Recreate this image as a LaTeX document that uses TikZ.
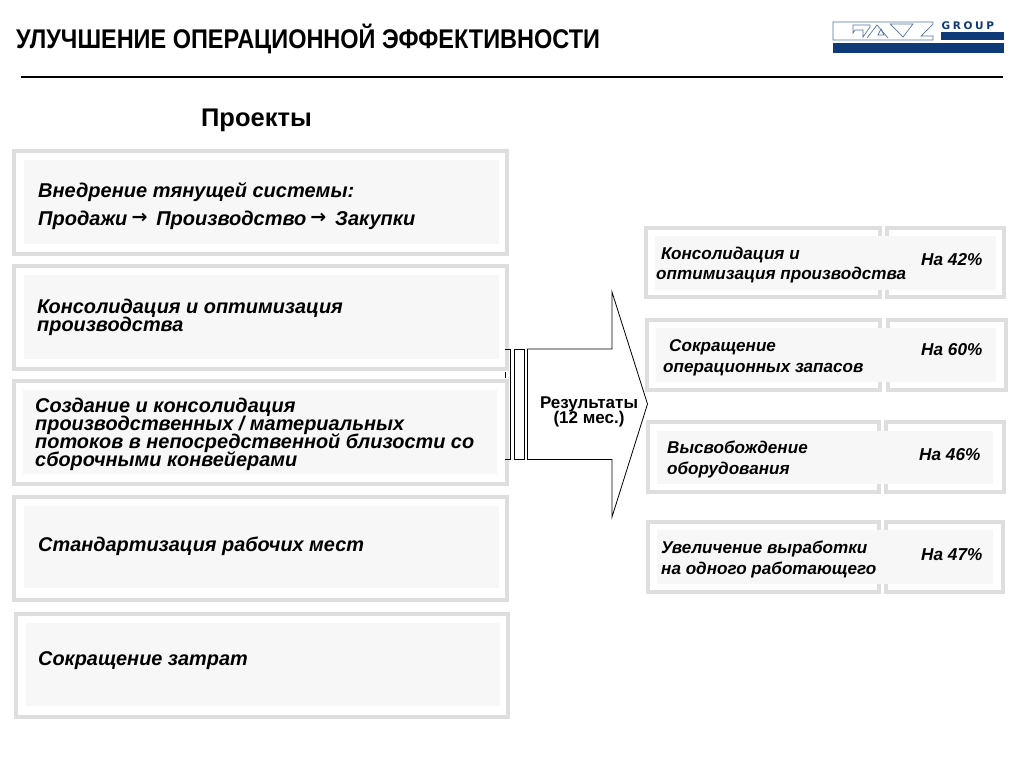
\documentclass[tikz,border=0pt]{standalone}
\usepackage{fontspec}
\setmainfont{Liberation Sans}
\newfontfamily\dejavu{DejaVu Sans}
\definecolor{frameg}{HTML}{DEDEDE}
\definecolor{innerg}{HTML}{F7F7F7}
\definecolor{navy}{HTML}{0F3A78}
\lineskiplimit=-20pt
\newcommand{\arr}{\hspace{-1.5pt}\raisebox{1.5pt}{\fontsize{19}{19}\dejavu\bfseries →}\hspace{3.3pt}}
\tikzset{
 x=1pt,y=-1pt,
 frameb/.style={draw=frameg,line width=4pt,fill=white},
 innerb/.style={fill=innerg,draw=none},
 lab/.style={font=\fontsize{19.9}{18}\selectfont\bfseries\itshape,anchor=west,align=left,inner sep=0pt,text=black},
 rlab/.style={font=\fontsize{17.1}{20.5}\selectfont\bfseries\itshape,anchor=west,align=left,inner sep=0pt,text=black},
 pct/.style={font=\fontsize{17.2}{18}\selectfont\bfseries\itshape,anchor=west,inner sep=0pt,text=black},
 logoline/.style={draw=navy!70,line width=.7pt},
}
\begin{document}
\begin{tikzpicture}
\useasboundingbox (0,0) rectangle (1024,768);
\fill[white] (0,0) rectangle (1024,768);
% title
\node[anchor=west,inner sep=0pt,font=\fontsize{27}{28}\selectfont\bfseries,xscale=.87,transform shape] (titlet) at (16,38.5) {УЛУЧШЕНИЕ ОПЕРАЦИОННОЙ ЭФФЕКТИВНОСТИ};
\draw[line width=2pt] (21,76.5) -- (1003,76.5);
\node[font=\fontsize{25.5}{27}\selectfont\bfseries,inner sep=0pt] (proj) at (256.5,120.5) {Проекты};
% logo
\fill[navy] (833,43) rectangle (1004,53);
\fill[navy] (941,32) rectangle (1004,40);
\node[anchor=west,inner sep=0pt,text=navy,font=\fontsize{10.5}{11}\dejavu\bfseries] (grp) at (941.5,25.5) {G\hspace{2.6pt}R\hspace{2.6pt}O\hspace{2.6pt}U\hspace{2.6pt}P};
\path[logoline] (833,22) -- (933,22) -- (933,24) -- (921,36) -- (933,36) -- (933,40) -- (833,40) -- cycle;
\path[logoline] (853,25) -- (870,25) -- (870,27) -- (863,37) -- (863,30) -- (855,30) -- (853,33) -- cycle;
\path[logoline] (867,38) -- (877,25) -- (888,38);
\path[logoline] (878,35) -- (881,29) -- (884,35) -- cycle;
\path[logoline] (890,24) -- (903,37) -- (913,24) -- cycle;
% left boxes
\foreach \n/\xa/\ya/\xb/\yb/\ia/\ib/\ic/\id in {
 a/14/151/507/254/24/160/499/244,
 b/14/266/507/369/24/275/499/359,
 c/14/381/507/484/23/390/497/474,
 d/14/497/507/600/24/506/499/588,
 e/16/614/508/717/26/623/500/706}{
 \path[frameb] (\xa,\ya) rectangle (\xb,\yb);
 \path[innerb] (\ia,\ib) rectangle (\ic,\id);
}
\node[lab,font=\fontsize{20}{28}\selectfont\bfseries\itshape] (t1) at (38,206) {Внедрение тянущей системы:\\Продажи \arr{} Производство \arr{} Закупки};
\node[lab] (t2) at (37,317) {Консолидация и оптимизация\\производства};
\node[lab] (t3) at (35,434) {Создание и консолидация\\производственных / материальных\\потоков в непосредственной близости со\\сборочными конвейерами};
\node[lab] (t4) at (38,546) {Стандартизация рабочих мест};
\node[lab] (t5) at (38,660.5) {Сокращение затрат};
% arrow
\draw[line width=.8pt,fill=white] (527.5,349) -- (612,349) -- (612,292) -- (647.5,404) -- (612,517) -- (612,459.5) -- (527.5,459.5) -- cycle;
\draw[line width=.8pt] (514.5,349) rectangle (524,459.5);
\draw[line width=.8pt] (505,349) -- (510.5,349) -- (510.5,459.5) -- (505,459.5);
\draw[line width=.8pt] (505.5,372) -- (505.5,378);
\node[inner sep=0pt,align=center,font=\fontsize{17}{15}\selectfont\bfseries] (res) at (589,412) {Результаты\\(12 мес.)};
% right boxes
\foreach \ya/\yb/\ia/\ib/\xa/\xb/\xc/\xd/\ic/\id in {
 228/297/236/290/646/879.5/887/1004/655/996,
 320/390/328/382/647/880/888/1006/656/996,
 422/492/431/484/648/879/886/1004/657/993,
 522/592/530/584/648/879/886/1003/657/993}{
 \path[frameb] (\xa,\ya) rectangle (\xb,\yb);
 \path[frameb] (\xc,\ya) rectangle (\xd,\yb);
 \path[innerb] (\ic,\ia) rectangle (\id,\ib);
}
\node[rlab] (r1) at (656,265) {\hspace{5pt}Консолидация и\\оптимизация производства};
\node[rlab] (r2) at (663,358) {\hspace{6pt}Сокращение\\операционных запасов};
\node[rlab] (r3) at (667,459.5) {Высвобождение\\оборудования};
\node[rlab] (r4) at (661,559.5) {Увеличение выработки\\на одного работающего};
\node[pct] (p1) at (921,260) {На 42\%};
\node[pct] (p2) at (921,349.5) {На 60\%};
\node[pct] (p3) at (919,454.5) {На 46\%};
\node[pct] (p4) at (921,554.5) {На 47\%};
\end{tikzpicture}
\end{document}
